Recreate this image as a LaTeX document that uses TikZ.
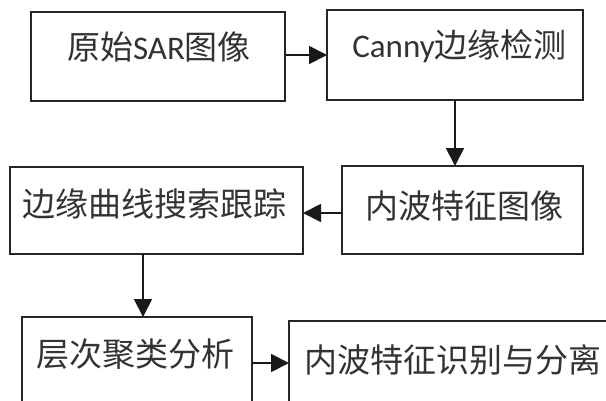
\documentclass[tikz,border=0pt]{standalone}
\usepackage{fontspec}
\setmainfont{Carlito}
\newfontfamily\cjk{Noto Sans CJK SC}
\newfontfamily\lat{Carlito}
\usetikzlibrary{arrows.meta}
\begin{document}
\begin{tikzpicture}[x=1pt,y=-1pt,
  box/.style={draw=black!85,line width=1.6pt,fill=white,inner sep=0pt,outer sep=0pt},
  lbl/.style={inner sep=0pt,font=\fontsize{33}{36}\selectfont\cjk,text=black!80},
  arr/.style={draw=black!90,line width=1.8pt,-{Triangle[length=18pt,width=18pt]}}]
\useasboundingbox (0,0) rectangle (606,400);
\clip (0,0) rectangle (606,400);
% boxes
\node[box,minimum width=254pt,minimum height=89pt] (b1) at (158,56.5) {};
\node[box,minimum width=256pt,minimum height=90pt] (b2) at (455,55) {};
\node[box,minimum width=241pt,minimum height=88pt] (b3) at (462.5,210) {};
\node[box,minimum width=293pt,minimum height=87pt] (b4) at (156.5,210.5) {};
\node[box,minimum width=230pt,minimum height=92pt] (b5) at (137,363) {};
\node[box,minimum width=341pt,minimum height=84pt] (b6) at (459.5,363) {};
% labels
\node[lbl] (t1) at (159,47) {原始{\lat SAR}图像};
\node[lbl] (t2) at (459.5,46) {{\lat Canny}边缘检测};
\node[lbl] (t3) at (464,206) {内波特征图像};
\node[lbl] (t4) at (155,204) {边缘曲线搜索跟踪};
\node[lbl] (t5) at (136,354) {层次聚类分析};
\node[lbl] (t6) at (453,360) {内波特征识别与分离};
% connectors
\draw[arr] (b2.west -| b1.east) -- (b2.west);
\draw[arr] (b2.south) -- (b2.south |- b3.north);
\draw[arr] ([yshift=-3pt]b3.west) -- ([yshift=-3pt]b3.west -| b4.east);
\draw[arr] ([xshift=-13.5pt]b4.south) -- ([xshift=-13.5pt]b4.south |- b5.north);
\draw[arr] (b5.east) -- (b6.west);
\end{tikzpicture}
\end{document}
